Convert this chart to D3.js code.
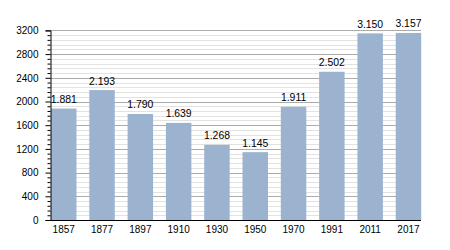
<!DOCTYPE html>
<html><head><meta charset="utf-8">
<script src="https://cdn.jsdelivr.net/npm/d3@7"></script>
<style>
html,body{margin:0;padding:0;background:#fff;}
svg{display:block;font-family:"Liberation Sans",Arial,sans-serif;}
</style></head>
<body>
<script>
const years = ["1857","1877","1897","1910","1930","1950","1970","1991","2011","2017"];
const population = [1881,2193,1790,1639,1268,1145,1911,2502,3150,3157];
const yTicks = [0,400,800,1200,1600,2000,2400,2800,3200];

const W = 450, H = 250;
const svg = d3.select("body").append("svg").attr("width",W).attr("height",H);

const x = d3.scaleBand().domain(years).range([51,421.2]).paddingInner(0.335).paddingOuter(0);
const y = d3.scaleLinear().domain([0,3200]).range([220,30.4]);
const fmt = v => d3.format(",")(v).replace(/,/g,".");

const minor = d3.range(0,3200+1,80).filter(v => v % 400 !== 0);

// minor grid
svg.append("g").selectAll("line").data(minor).join("line")
  .attr("x1",50).attr("x2",421).attr("y1",d=>Math.round(y(d))+0.5).attr("y2",d=>Math.round(y(d))+0.5)
  .attr("stroke","#e2e2e2").attr("stroke-width",1);
// major grid
svg.append("g").selectAll("line").data(yTicks.filter(d=>d>0)).join("line")
  .attr("x1",50).attr("x2",421).attr("y1",d=>Math.round(y(d))+0.5).attr("y2",d=>Math.round(y(d))+0.5)
  .attr("stroke","#ababab").attr("stroke-width",1);

// bars
svg.append("g").selectAll("rect").data(population).join("rect")
  .attr("x",(d,i)=>x(years[i])).attr("width",x.bandwidth())
  .attr("y",d=>y(d)).attr("height",d=>y(0)-y(d))
  .attr("fill","#9bb3cf");

// value labels
svg.append("g").selectAll("text").data(population).join("text")
  .attr("x",(d,i)=>x(years[i])+x.bandwidth()/2).attr("y",d=>y(d)-5.5)
  .attr("text-anchor","middle").attr("font-size","10.4px").attr("fill","#000")
  .text(d=>fmt(d));

// y axis
const yAxis = d3.axisLeft(y).tickValues(yTicks).tickSize(5).tickPadding(7).tickFormat(d3.format("d"));
const gy = svg.append("g").attr("transform","translate(50.5,0)").call(yAxis);
gy.selectAll("text").attr("font-size","10px").attr("fill","#000").style("font-family","Liberation Sans, Arial, sans-serif");
gy.select(".domain").attr("stroke","#000");
gy.selectAll(".tick line").attr("stroke","#000");
const yMinor = d3.axisLeft(y).tickValues(minor).tickSize(3).tickFormat("");
const gym = svg.append("g").attr("transform","translate(50.5,0)").call(yMinor);
gym.select(".domain").remove();
gym.selectAll(".tick line").attr("stroke","#000");

// x axis
const xAxis = d3.axisBottom(x).tickSize(0).tickPadding(5);
const gx = svg.append("g").attr("transform","translate(0,220.5)").call(xAxis);
gx.select(".domain").attr("d","M50,0H421").attr("stroke","#000");
gx.selectAll("text").attr("font-size","10px").attr("fill","#000").style("font-family","Liberation Sans, Arial, sans-serif");
</script>
</body></html>
